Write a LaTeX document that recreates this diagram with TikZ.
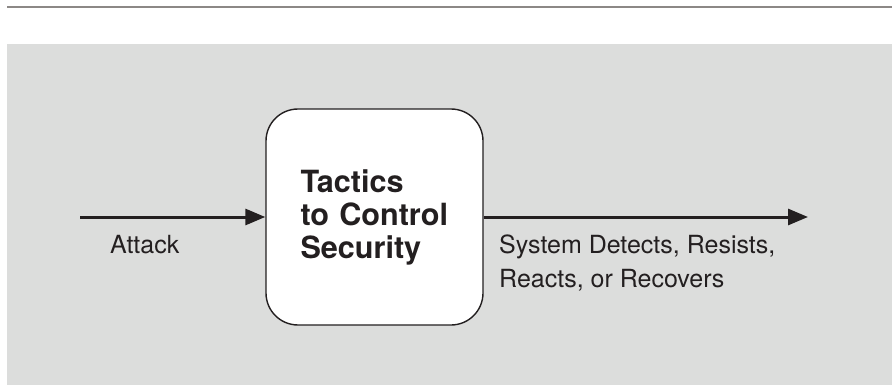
\documentclass[tikz,border=0pt]{standalone}
\usepackage{fontspec}
\setmainfont{TeX Gyre Heros}
\usetikzlibrary{arrows.meta}
\definecolor{ink}{HTML}{231F20}
\definecolor{panel}{HTML}{DCDDDC}
\definecolor{rule}{HTML}{8C8886}
\tikzset{
  tacticbox/.style={draw=ink, line width=1.4pt, fill=white, rounded corners=32pt,
    minimum width=217pt, minimum height=216pt, inner xsep=34.5pt, inner ysep=0pt,
    text width=148pt, align=left, text=ink,
    font=\fontsize{30.6pt}{33pt}\selectfont\bfseries},
  flow/.style={draw=ink, line width=3pt, -{Triangle[length=20pt,width=16pt]}},
  lbl/.style={anchor=base west, inner sep=0pt, text=ink, align=left,
    font=\fontsize{25pt}{34pt}\selectfont}
}
\begin{document}
\begin{tikzpicture}[x=1pt,y=1pt]
  \useasboundingbox (0,0) rectangle (892,-385);
  % header rule and shaded panel
  \draw[rule, line width=1.6pt] (7,-7) -- (892,-7);
  \fill[panel] (7,-44) rectangle (892,-385);
  % central tactics box
  \node[tacticbox] (box) at (374.5,-217) {Tactics\\to~Control\\Security};
  % stimulus and response
  \coordinate (src) at (80,-217);
  \coordinate (dst) at (808,-217);
  \draw[flow] (src) -- (box.west);
  \draw[flow] (box.east) -- (dst);
  \node[lbl] (attack) at (110,-253) {Attack};
  \node[lbl] (resp1) at (499,-253) {System Detects, Resists,};
  \node[lbl] (resp2) at (499,-287) {Reacts, or Recovers};
\end{tikzpicture}
\end{document}
